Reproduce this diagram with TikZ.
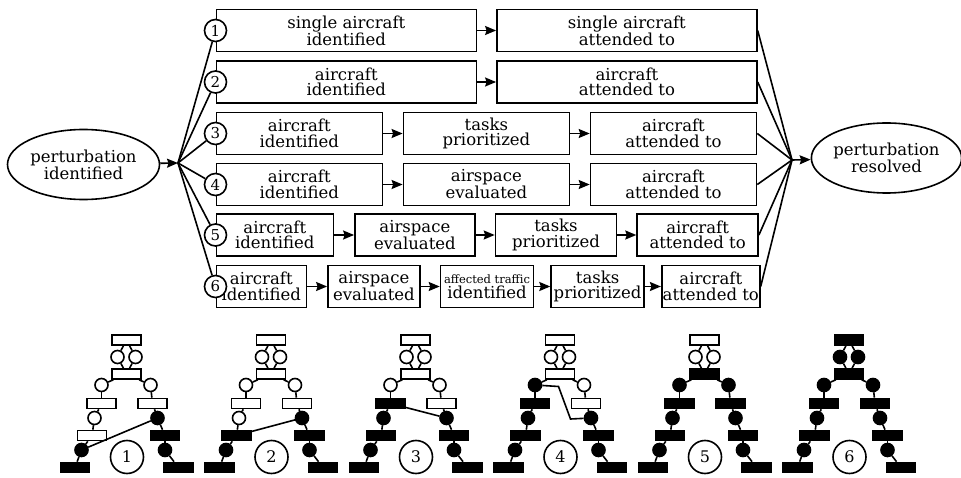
\documentclass[tikz,border=0pt]{standalone}
\usepackage{fontspec}
\setmainfont{DejaVu Serif}
\usetikzlibrary{arrows.meta}
\usetikzlibrary{positioning}
\usetikzlibrary{shapes}

\begin{document}
\begin{tikzpicture}[x=1pt,y=-1pt,line width=1.6pt,>={Stealth[length=11pt,width=9pt,inset=1.5pt]},
		task/.style={rectangle,draw=black,align=center,minimum height=42pt,inner sep=1pt,font=\fontsize{16.5}{15.5}\selectfont},
		event/.style={ellipse,draw=black,align=center,minimum height=70pt,inner sep=0pt,font=\fontsize{16.5}{15.5}\selectfont},
		num/.style={circle,draw=black,fill=white,minimum size=22pt,inner sep=0pt,font=\fontsize{15}{15}\selectfont},
		trans/.style={rectangle,draw=black,minimum width=29pt,minimum height=10pt,inner sep=0pt},
		place/.style={circle,draw=black,minimum size=13pt,inner sep=0pt},
		tag/.style={circle,draw=black,minimum size=33pt,inner sep=0pt,font=\fontsize{16}{16}\selectfont}]
		\useasboundingbox (0,0) rectangle (961,478);

		\node[event,minimum width=152pt] (pid)  at (83.5,164.5) {perturbation\\identified};
		\node[event,minimum width=146pt] (pres) at (886.5,158)  {perturbation\\resolved};
		\coordinate (hubL) at (178,163);
		\coordinate (hubR) at (792,160);

		% one row per strategy
		\node[task,minimum width=260pt,anchor=west] (r1a) at (215.5,30.5) {single aircraft\\identified};
		\node[task,minimum width=260pt,right=19pt of r1a] (r1b) {single aircraft\\attended to};

		\node[task,minimum width=260pt,anchor=west] (r2a) at (215.5,82) {aircraft\\identified};
		\node[task,minimum width=260pt,right=19pt of r2a] (r2b) {aircraft\\attended to};

		\node[task,minimum width=166pt,anchor=west] (r3a) at (215.5,133.5) {aircraft\\identified};
		\node[task,minimum width=166pt,right=19.5pt of r3a] (r3b) {tasks\\prioritized};
		\node[task,minimum width=166pt,right=19.5pt of r3b] (r3c) {aircraft\\attended to};

		\node[task,minimum width=166pt,anchor=west] (r4a) at (215.5,184.5) {aircraft\\identified};
		\node[task,minimum width=166pt,right=19.5pt of r4a] (r4b) {airspace\\evaluated};
		\node[task,minimum width=166pt,right=19.5pt of r4b] (r4c) {aircraft\\attended to};

		\node[task,minimum width=117pt,anchor=west] (r5a) at (215.5,235) {aircraft\\identified};
		\node[task,minimum width=120pt,right=20pt of r5a] (r5b) {airspace\\evaluated};
		\node[task,minimum width=121pt,right=19pt of r5b] (r5c) {tasks\\prioritized};
		\node[task,minimum width=121pt,right=19pt of r5c] (r5d) {aircraft\\attended to};

		\node[task,minimum width=90pt,anchor=west] (r6a) at (215.5,286.5) {aircraft\\identified};
		\node[task,minimum width=92pt,right=20pt of r6a] (r6b) {airspace\\evaluated};
		\node[task,minimum width=93pt,right=19pt of r6b] (r6c) {{\fontsize{11.5}{12}\selectfont affected traffic}\\identified};
		\node[task,minimum width=93pt,right=16pt of r6c] (r6d) {tasks\\prioritized};
		\node[task,minimum width=97pt,right=16pt of r6d] (r6e) {aircraft\\attended to};

		\foreach \i in {1,...,6}
			\node[num] (n\i) at (r\i a.west) {\i};

		\draw[->] (pid) -- (hubL);
		\draw[->] (hubR) -- (pres);
		\foreach \i in {1,...,6}
			\draw (hubL) -- (n\i);
		\foreach \r in {r1b,r2b,r3c,r4c,r5d,r6e}
			\draw (\r.east) -- (hubR);
		\foreach \a/\b in {r1a/r1b,r2a/r2b,r3a/r3b,r3b/r3c,r4a/r4b,r4b/r4c,r5a/r5b,r5b/r5c,r5c/r5d,r6a/r6b,r6b/r6c,r6c/r6d,r6d/r6e}
			\draw[->] (\a) -- (\b);

		% the six nets below
		\foreach \k in {1,...,6}{
			\pgfmathsetmacro{\cx}{126.5+144.5*(\k-1)}
			\foreach \e/\dx/\dy/\lv/\s in {T/0/340/6/trans,c1/-9/357/6/place,c2/9/357/6/place,R2/0/374/5/trans,
					aL/-25/385/4/place,aR/24/385/5/place,L3/-25/403.5/3/trans,R3/26/403.5/5/trans,
					bL/-32/418/3/place,bR/31/418/1/place,L4/-34.5/435.5/2/trans,R4/38.5/435.5/1/trans,
					dL/-45/450/1/place,dR/38.5/450/1/place,L5/-51.5/467.5/1/trans,R5/52/467.5/1/trans}{
				\ifnum\k<\lv \def\fc{white}\else\def\fc{black}\fi
				\node[\s,fill=\fc] (t\k\e) at (\cx+\dx,\dy) {};
			}
			\foreach \a/\b in {T/c1,T/c2,c1/R2,c2/R2,R2/aL,R2/aR,aL/L3,aR/R3,L3/bL,R3/bR,
					bL/L4,bR/R4,L4/dL,R4/dR,dL/L5,dR/R5}
				\draw (t\k\a) -- (t\k\b);
			\node[tag] (tag\k) at (\cx+0.5,457) {\k};
		}
		\coordinate (t4k1) at (558.5,386.5);
		\coordinate (t4k2) at (570.5,419);
		\draw (t1dL) -- (t1bR);
		\draw (t2L4) -- (t2bR);
		\draw (t3L3) -- (t3bR);
		\draw (t4aL) -- (t4k1) -- (t4k2) -- (t4bR);
\end{tikzpicture}
\end{document}
